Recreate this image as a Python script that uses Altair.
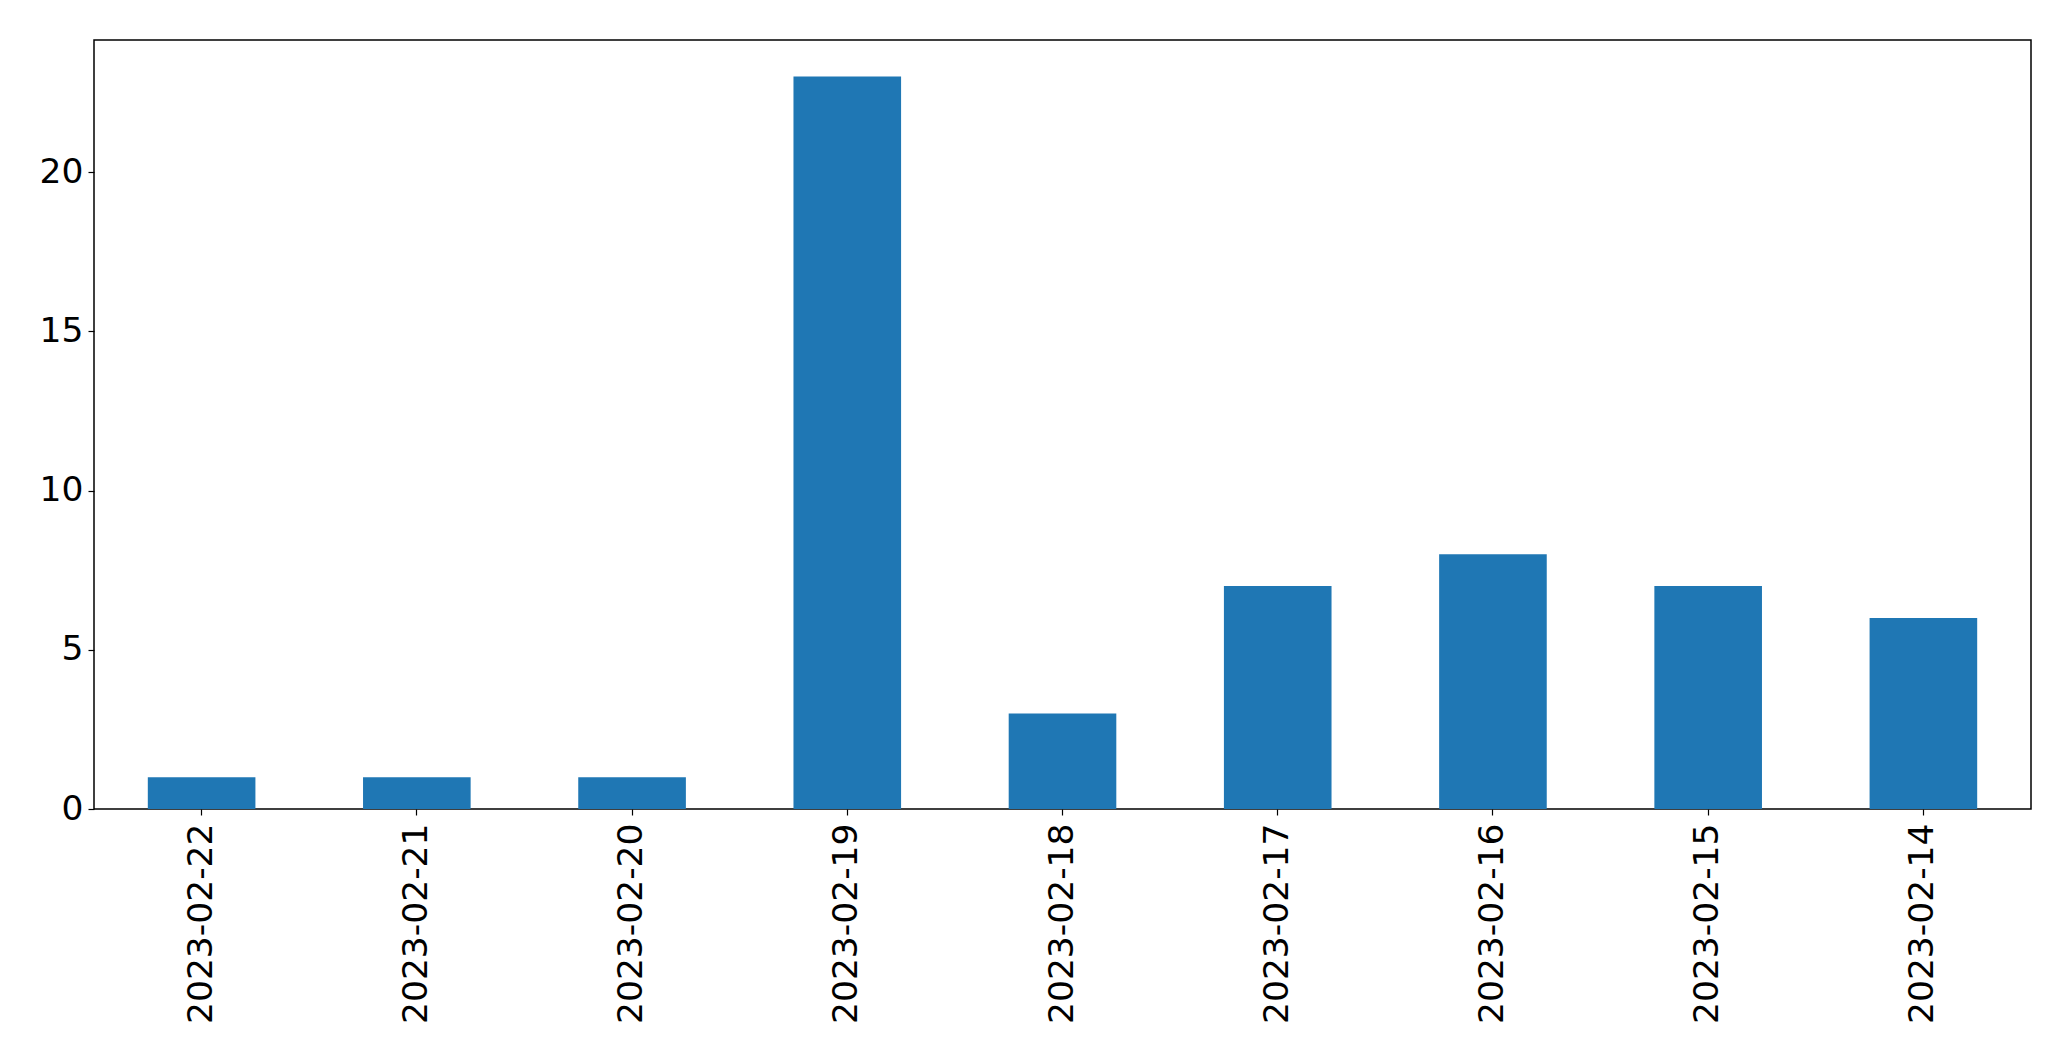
import altair as alt
import pandas as pd

dates = ["2023-02-22", "2023-02-21", "2023-02-20", "2023-02-19", "2023-02-18",
         "2023-02-17", "2023-02-16", "2023-02-15", "2023-02-14"]
counts = [1, 1, 1, 23, 3, 7, 8, 7, 6]

df = pd.DataFrame({"date": dates, "count": counts})

FONT = "DejaVu Sans"
FS = 34.5

chart = alt.Chart(df).mark_bar(color="#1f77b4").encode(
    x=alt.X("date:N", sort=None, title=None,
            scale=alt.Scale(paddingInner=0.5, paddingOuter=0.25),
            axis=alt.Axis(labelAngle=-90, labelFont=FONT, labelFontSize=FS,
                          labelColor="black", tickColor="black", tickSize=6,
                          tickWidth=1.2, labelPadding=8, domain=False,
                          labelLimit=0, labelAlign="right", labelBaseline="middle")),
    y=alt.Y("count:Q", title=None,
            scale=alt.Scale(domain=[0, 24.15], nice=False, zero=True),
            axis=alt.Axis(values=[0, 5, 10, 15, 20], grid=False, labelFont=FONT,
                          labelFontSize=FS, labelColor="black", tickColor="black",
                          tickSize=6, tickWidth=1.2, labelPadding=5, domain=False)),
).properties(
    width=1937, height=769,
    autosize=alt.AutoSizeParams(type="none"),
    padding={"left": 86, "top": 32, "right": 30, "bottom": 240},
    background="white",
).configure_view(
    stroke="black", strokeWidth=1.5
)

chart.save("out.html", embed_options={"renderer": "svg", "actions": False})
